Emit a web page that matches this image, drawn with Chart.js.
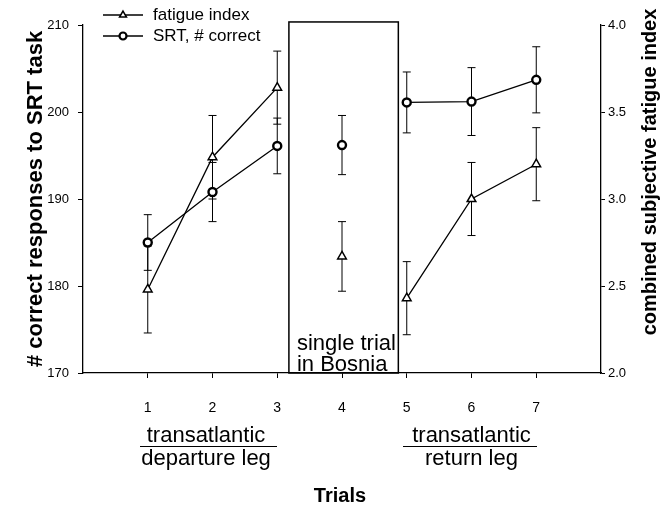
<!DOCTYPE html>
<html lang="en">
<head>
  <meta charset="UTF-8" />
  <title>SRT and fatigue by trial</title>
  <script src="https://cdn.jsdelivr.net/npm/chart.js"></script>
  <style>
    body { margin: 0; background: #fff; }
    #wrap { width: 671px; height: 508px; }
  </style>
</head>
<body>
  <div id="wrap"><canvas id="trialChart" width="671" height="508"></canvas></div>

  <script>
    // values
    const trials = [1, 2, 3, 4, 5, 6, 7];
    const legGroup = [1, 1, 1, 0, 2, 2, 2]; // points in the same leg are joined
    const srtCorrect = [185.0, 190.8, 196.1, 196.2, 201.1, 201.2, 203.7];
    const srtError = [3.2, 3.4, 3.2, 3.4, 3.5, 3.9, 3.8];
    const fatigueIndex = [2.48, 3.24, 3.64, 2.67, 2.43, 3.00, 3.20];
    const fatigueError = [0.25, 0.24, 0.21, 0.20, 0.21, 0.21, 0.21];
    const srtTicks = [170, 180, 190, 200, 210];
    const fatigueTicks = [2.0, 2.5, 3.0, 3.5, 4.0];

    const FONT = '"Liberation Sans", Arial, Helvetica, sans-serif';
    const H = Chart.helpers;

    const joinLegs = ctx =>
      legGroup[ctx.p0DataIndex] && legGroup[ctx.p0DataIndex] === legGroup[ctx.p1DataIndex] ? '#000' : 'transparent';

    function errorBars(ctx, xs, means, errs, yScale) {
      ctx.save();
      ctx.strokeStyle = '#000';
      ctx.lineWidth = 1;
      means.forEach((m, i) => {
        const x = xs.getPixelForValue(trials[i]);
        const top = yScale.getPixelForValue(m + errs[i]);
        const bot = yScale.getPixelForValue(m - errs[i]);
        ctx.beginPath();
        ctx.moveTo(x, top); ctx.lineTo(x, bot);
        ctx.moveTo(x - 4, top); ctx.lineTo(x + 4, top);
        ctx.moveTo(x - 4, bot); ctx.lineTo(x + 4, bot);
        ctx.stroke();
      });
      ctx.restore();
    }

    const overlay = {
      id: 'overlay',
      beforeDatasetsDraw(chart) {
        const { ctx, scales } = chart;
        const x = scales.x, yl = scales.ySrt;
        // box around the single Bosnia trial
        const bx0 = x.getPixelForValue(3.18), bx1 = x.getPixelForValue(4.87);
        const by0 = yl.getPixelForValue(210.35), by1 = yl.getPixelForValue(170);
        ctx.save();
        ctx.strokeStyle = '#000';
        ctx.lineWidth = 1.5;
        ctx.strokeRect(bx0, by0, bx1 - bx0, by1 - by0);
        ctx.fillStyle = '#000';
        ctx.font = '22px ' + FONT;
        ctx.textAlign = 'left';
        ctx.textBaseline = 'alphabetic';
        ctx.fillText('single trial', bx0 + 8, 350);
        ctx.fillText('in Bosnia', bx0 + 8, 371);
        ctx.restore();

        errorBars(ctx, x, srtCorrect, srtError, yl);
        errorBars(ctx, x, fatigueIndex, fatigueError, scales.yFat);
      },
      afterDraw(chart) {
        const { ctx, scales } = chart;
        const x = scales.x;
        ctx.save();
        ctx.fillStyle = '#000';
        ctx.strokeStyle = '#000';

        // legend
        const rows = [
          { label: 'fatigue index', style: 'triangle', r: 4, bw: 1.5 },
          { label: 'SRT, # correct', style: 'circle', r: 3.5, bw: 2.2 }
        ];
        rows.forEach((row, i) => {
          const y = 15 + i * 21;
          ctx.lineWidth = 1.3;
          ctx.beginPath(); ctx.moveTo(103, y); ctx.lineTo(143, y); ctx.stroke();
          ctx.fillStyle = '#fff';
          ctx.lineWidth = row.bw;
          H.drawPoint(ctx, { pointStyle: row.style, radius: row.r, borderWidth: row.bw }, 123, y);
          ctx.fillStyle = '#000';
          ctx.font = '17px ' + FONT;
          ctx.textAlign = 'left';
          ctx.textBaseline = 'middle';
          ctx.fillText(row.label, 153, y);
        });

        // axis titles
        ctx.textAlign = 'center';
        ctx.textBaseline = 'middle';
        ctx.font = 'bold 22px ' + FONT;
        ctx.save();
        ctx.translate(36, (chart.chartArea.top + chart.chartArea.bottom) / 2);
        ctx.rotate(-Math.PI / 2);
        ctx.fillText('# correct responses to SRT task', 0, 0);
        ctx.restore();

        ctx.font = 'bold 20px ' + FONT;
        ctx.save();
        ctx.translate(650, 172);
        ctx.rotate(-Math.PI / 2);
        ctx.fillText('combined subjective fatigue index', 0, 0);
        ctx.restore();

        ctx.textBaseline = 'alphabetic';
        ctx.fillText('Trials', 340, 502);

        // leg labels under the axis
        ctx.font = '22px ' + FONT;
        const legs = [
          { top: 'transatlantic', bottom: 'departure leg', c: 1.9, from: 140, to: 277 },
          { top: 'transatlantic', bottom: 'return leg', c: 6.0, from: 403, to: 537 }
        ];
        legs.forEach(l => {
          const cx = x.getPixelForValue(l.c);
          ctx.fillText(l.top, cx, 442);
          ctx.fillText(l.bottom, cx, 465);
          ctx.lineWidth = 1;
          ctx.beginPath(); ctx.moveTo(l.from, 446.5); ctx.lineTo(l.to, 446.5); ctx.stroke();
        });
        ctx.restore();
      }
    };

    new Chart(document.getElementById('trialChart'), {
      type: 'line',
      data: {
        labels: trials,
        datasets: [
          {
            label: 'fatigue index',
            data: trials.map((t, i) => ({ x: t, y: fatigueIndex[i] })),
            yAxisID: 'yFat',
            borderColor: '#000',
            borderWidth: 1.3,
            pointStyle: 'triangle',
            pointRadius: 5,
            pointBorderWidth: 1.5,
            pointBackgroundColor: '#fff',
            pointBorderColor: '#000',
            segment: { borderColor: joinLegs }
          },
          {
            label: 'SRT, # correct',
            data: trials.map((t, i) => ({ x: t, y: srtCorrect[i] })),
            yAxisID: 'ySrt',
            borderColor: '#000',
            borderWidth: 1.3,
            pointStyle: 'circle',
            pointRadius: 4,
            pointBorderWidth: 2.4,
            pointBackgroundColor: '#fff',
            pointBorderColor: '#000',
            segment: { borderColor: joinLegs }
          }
        ]
      },
      options: {
        responsive: false,
        animation: false,
        layout: { padding: { top: 25, left: 0, right: 0, bottom: 0 } },
        plugins: { legend: { display: false }, tooltip: { enabled: false } },
        scales: {
          x: {
            type: 'linear',
            min: 0,
            max: 8,
            afterBuildTicks: s => { s.ticks = trials.map(v => ({ value: v })); },
            afterFit: s => { s.height = 135; },
            grid: { drawOnChartArea: false, color: '#000', tickLength: 5 },
            border: { color: '#000', width: 1.3 },
            ticks: { color: '#000', font: { family: FONT, size: 14 }, padding: 22, maxRotation: 0 }
          },
          ySrt: {
            position: 'left',
            min: 170,
            max: 210,
            afterBuildTicks: s => { s.ticks = srtTicks.map(v => ({ value: v })); },
            afterFit: s => { s.width = 83; },
            grid: { drawOnChartArea: false, color: '#000', tickLength: 5 },
            border: { color: '#000', width: 1.3 },
            ticks: { color: '#000', font: { family: FONT, size: 13 }, padding: 9 }
          },
          yFat: {
            position: 'right',
            min: 2,
            max: 4,
            afterBuildTicks: s => { s.ticks = fatigueTicks.map(v => ({ value: v })); },
            afterFit: s => { s.width = 70; },
            grid: { drawOnChartArea: false, color: '#000', tickLength: 4 },
            border: { color: '#000', width: 1.3 },
            ticks: {
              color: '#000',
              font: { family: FONT, size: 13 },
              padding: 3,
              callback: v => Number(v).toFixed(1)
            }
          }
        }
      },
      plugins: [overlay]
    });
  </script>
</body>
</html>
